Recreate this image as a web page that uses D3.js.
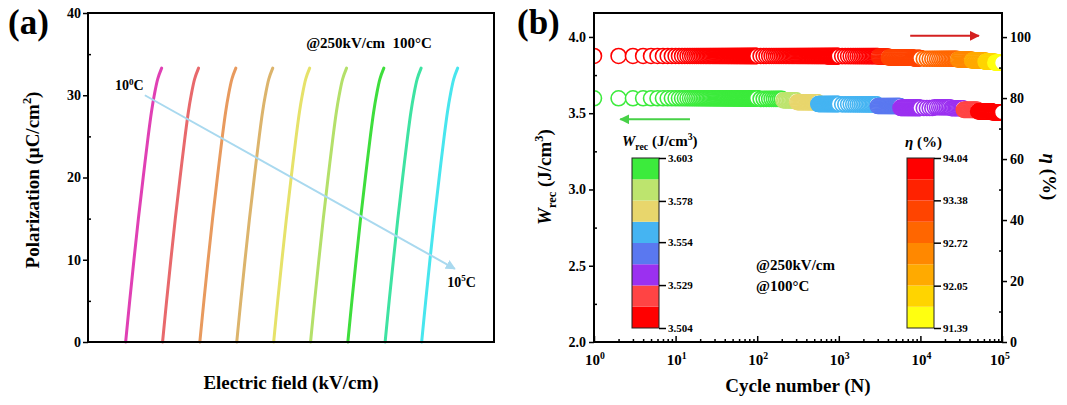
<!DOCTYPE html>
<html lang="en">
<head>
<meta charset="utf-8">
<script src="https://d3js.org/d3.v7.min.js"></script>
<style>
  body { margin: 0; background: #fff; }
  svg { display: block; font-family: "Liberation Serif", "Times New Roman", serif; font-weight: bold; }
  .frame { fill: none; stroke: #000; stroke-width: 2px; }
</style>
</head>
<body>
<svg id="chart" width="1067" height="405"></svg>
<script>
// ---------- panel (a): discharge branches, one per cycling stage (shifted along the field axis)
const loopStarts = [10.2, 20.2, 30.3, 40.3, 50.3, 60.3, 70.4, 80.5, 90.4]
const loopColors = ["#e040b4", "#e8696c", "#e89a5e", "#dcb46c", "#e6e26a", "#b4e06a", "#3ede3c", "#3ee3a2", "#48e6ee"]
const branchP = [0, 5, 10, 15, 20, 25, 28, 30, 32, 33.3]
const branchE = [0, 1.1, 2.25, 3.45, 4.75, 6.1, 7.0, 7.75, 8.7, 9.75]
const polTicks = [0, 10, 20, 30, 40]
const polMinor = [5, 15, 25, 35]

// ---------- panel (b): fatigue data
// tested cycles: [first, last, step] per block
const cycleBlocks = [[1, 100, 1], [110, 1000, 10], [1100, 10000, 100], [11000, 100000, 1000]]
// values as [value, how many consecutive cycles]
const wrecRuns = [[3.598, 100], [3.594, 10], [3.584, 10], [3.572, 25], [3.560, 45],
  [3.558, 19], [3.547, 27], [3.535, 44],
  [3.534, 4], [3.539, 9], [3.533, 10], [3.522, 17], [3.512, 25], [3.506, 25]]
const etaRuns = [[93.8, 100], [93.8, 60], [93.75, 30],
  [93.75, 20], [93.6, 10], [93.3, 40], [93.1, 20],
  [92.9, 18], [92.6, 14], [92.3, 20], [91.9, 20], [91.6, 18]]

const wrecColors = ["#ff0000", "#ff4444", "#9b30f0", "#5a78f0", "#45b4f2", "#e8d66c", "#bde46e", "#3ceb3c"]
const etaColors = ["#ffff10", "#ffd400", "#ffaa00", "#ff8800", "#ff6600", "#ff4400", "#ff2200", "#ff0000"]
const wrecBarTicks = [3.504, 3.529, 3.554, 3.578, 3.603]
const etaBarTicks = [91.39, 92.05, 92.72, 93.38, 94.04]
const wrecTicks = [2.0, 2.5, 3.0, 3.5, 4.0]
const wrecMinor = [2.25, 2.75, 3.25, 3.75]
const etaTicks = [0, 20, 40, 60, 80, 100]
const etaMinor = [10, 30, 50, 70, 90]
const cycleTicks = [1, 10, 100, 1000, 10000, 100000]

const svg = d3.select("#chart")

// little helper for text with italic / sub / superscript pieces
function richText(g, x, y, parts, size, anchor) {
  const t = g.append("text").attr("x", x).attr("y", y).attr("font-size", size)
    .attr("text-anchor", anchor || "start")
  let shift = 0
  parts.forEach(([s, kind]) => {
    const sp = t.append("tspan").text(s)
    const target = kind === "sup" ? -0.4 * size : kind === "sub" ? 0.28 * size : 0
    sp.attr("dy", target - shift)
    shift = target
    if (kind === "sup" || kind === "sub") sp.attr("font-size", size * 0.65)
    if (kind === "it") sp.attr("font-style", "italic")
  })
  return t
}

function styleAxis(g, size) {
  g.attr("font-family", null).attr("font-size", size).attr("font-weight", "bold")
  g.select(".domain").remove()
  g.selectAll(".tick line").attr("stroke-width", 1.5)
}

const defs = svg.append("defs")
function arrowMarker(id, color) {
  defs.append("marker").attr("id", id).attr("viewBox", "0 0 10 10").attr("refX", 9).attr("refY", 5)
    .attr("markerWidth", 5).attr("markerHeight", 5).attr("orient", "auto-start-reverse")
    .append("path").attr("d", "M0,0 L10,5 L0,10 z").attr("fill", color)
}
arrowMarker("arrBlue", "#a9d9ef")
arrowMarker("arrRed", "#d42020")
arrowMarker("arrGreen", "#47d147")

// ================= panel (a)
const xa = d3.scaleLinear().domain([0, 110]).range([88, 494])
const ya = d3.scaleLinear().domain([0, 40]).range([342, 13])
const pa = svg.append("g")

const branch = d3.range(branchP.length).map(i => ({ p: branchP[i], e: branchE[i] }))
loopStarts.forEach((start, i) => {
  const line = d3.line().x(d => xa(start + d.e)).y(d => ya(d.p)).curve(d3.curveCatmullRom)
  pa.append("path").attr("d", line(branch)).attr("fill", "none")
    .attr("stroke", loopColors[i]).attr("stroke-width", 3).attr("stroke-linecap", "round")
})

pa.append("rect").attr("class", "frame").attr("x", 88).attr("y", 13).attr("width", 406).attr("height", 329)
pa.append("g").attr("transform", "translate(88,0)")
  .call(d3.axisLeft(ya).tickValues(polTicks).tickSize(5).tickPadding(2))
  .call(g => styleAxis(g, 14))
pa.append("g").attr("transform", "translate(88,0)")
  .call(d3.axisRight(ya).tickValues(polMinor).tickSize(3).tickFormat(""))
  .call(g => styleAxis(g, 14))

pa.append("line").attr("x1", xa(15.4)).attr("y1", ya(30)).attr("x2", xa(99.4)).attr("y2", ya(8.9))
  .attr("stroke", "#a9d9ef").attr("stroke-width", 2).attr("marker-end", "url(#arrBlue)")
richText(pa, xa(7.3), ya(30.6), [["10"], ["0", "sup"], ["C"]], 14)
richText(pa, xa(97.3), ya(6.7), [["10"], ["5", "sup"], ["C"]], 14)
pa.append("text").attr("x", xa(59.1)).attr("y", ya(35.7)).attr("font-size", 15)
  .attr("xml:space", "preserve").text("@250kV/cm  100°C")

pa.append("text").attr("x", 8).attr("y", 34).attr("font-size", 35).text("(a)")
pa.append("text").attr("x", 291).attr("y", 389).attr("font-size", 19).attr("text-anchor", "middle").text("Electric field (kV/cm)")
const yla = pa.append("g").attr("transform", "translate(39,180) rotate(-90)")
richText(yla, 0, 0, [["Polarization (μC/cm"], ["2", "sup"], [")"]], 19, "middle")

// ================= panel (b)
const xb = d3.scaleLog().domain([1, 1e5]).range([594, 1002])
const yw = d3.scaleLinear().domain([2, 4.157]).range([342, 13])
const ye = d3.scaleLinear().domain([0, 107.9]).range([342, 13])
const wColor = d3.scaleQuantize().domain([3.504, 3.603]).range(wrecColors)
const eColor = d3.scaleQuantize().domain([91.39, 94.04]).range(etaColors)

const cycles = cycleBlocks.flatMap(([a, b, s]) => d3.range(a, b + s / 2, s))
const unrun = runs => runs.flatMap(([v, n]) => Array(n).fill(v))
const wrec = unrun(wrecRuns)
const eta = unrun(etaRuns)

const pb = svg.append("g")
defs.append("clipPath").attr("id", "clipB").append("rect")
  .attr("x", 594).attr("y", 13).attr("width", 408).attr("height", 329)
const marks = pb.append("g").attr("clip-path", "url(#clipB)")

marks.append("g").selectAll("circle").data(cycles).join("circle")
  .attr("cx", d => xb(d)).attr("cy", (d, i) => ye(eta[i])).attr("r", 7.5)
  .attr("fill", "#fff").attr("stroke", (d, i) => eColor(eta[i])).attr("stroke-width", 1.6)
marks.append("g").selectAll("circle").data(cycles).join("circle")
  .attr("cx", d => xb(d)).attr("cy", (d, i) => yw(wrec[i])).attr("r", 7.5)
  .attr("fill", "#fff").attr("stroke", (d, i) => wColor(wrec[i])).attr("stroke-width", 1.6)

pb.append("rect").attr("class", "frame").attr("x", 594).attr("y", 13).attr("width", 408).attr("height", 329)

pb.append("g").attr("transform", "translate(594,0)")
  .call(d3.axisLeft(yw).tickValues(wrecTicks).tickSize(5).tickPadding(3).tickFormat(d3.format(".1f")))
  .call(g => styleAxis(g, 14))
pb.append("g").attr("transform", "translate(594,0)")
  .call(d3.axisRight(yw).tickValues(wrecMinor).tickSize(3).tickFormat(""))
  .call(g => styleAxis(g, 14))
pb.append("g").attr("transform", "translate(1002,0)")
  .call(d3.axisRight(ye).tickValues(etaTicks).tickSize(5).tickPadding(3))
  .call(g => styleAxis(g, 14))
pb.append("g").attr("transform", "translate(1002,0)")
  .call(d3.axisLeft(ye).tickValues(etaMinor).tickSize(3).tickFormat(""))
  .call(g => styleAxis(g, 14))

const minorCycles = d3.range(0, 5).flatMap(k => d3.range(2, 10).map(m => m * Math.pow(10, k)))
pb.append("g").attr("transform", "translate(0,342)")
  .call(d3.axisBottom(xb).tickValues(cycleTicks).tickSize(-6).tickFormat(""))
  .call(g => styleAxis(g, 14))
pb.append("g").attr("transform", "translate(0,342)")
  .call(d3.axisBottom(xb).tickValues(minorCycles).tickSize(-3).tickFormat(""))
  .call(g => styleAxis(g, 14))
cycleTicks.forEach(v => {
  richText(pb, xb(v) + (v === 1e5 ? -2 : 1), 365, [["10"], [String(Math.round(Math.log10(v))), "sup"]], 15, "middle")
})

pb.append("text").attr("x", 517).attr("y", 34).attr("font-size", 35).text("(b)")
pb.append("text").attr("x", 798).attr("y", 392).attr("font-size", 19).attr("text-anchor", "middle").text("Cycle number (N)")
const ylb = pb.append("g").attr("transform", "translate(551,177) rotate(-90)")
richText(ylb, 0, 0, [["W", "it"], ["rec", "sub"], [" (J/cm"], ["3", "sup"], [")"]], 19, "middle")
const yrb = pb.append("g").attr("transform", "translate(1043,177) rotate(90)")
richText(yrb, 0, 0, [["η", "it"], [" (%)"]], 19, "middle")

// trend arrows
pb.append("line").attr("x1", xb(15)).attr("y1", yw(3.46)).attr("x2", xb(2.1)).attr("y2", yw(3.46))
  .attr("stroke", "#47d147").attr("stroke-width", 2).attr("marker-end", "url(#arrGreen)")
pb.append("line").attr("x1", xb(7500)).attr("y1", ye(100.4)).attr("x2", xb(52000)).attr("y2", ye(100.4))
  .attr("stroke", "#d42020").attr("stroke-width", 2).attr("marker-end", "url(#arrRed)")

pb.append("text").attr("x", 756).attr("y", 270).attr("font-size", 15).text("@250kV/cm")
pb.append("text").attr("x", 756).attr("y", 291).attr("font-size", 15).text("@100°C")

// colour bars
function colorBar(x, top, bottom, domain, colors, ticks, fmt) {
  const s = d3.scaleLinear().domain(domain).range([bottom, top])
  const step = (domain[1] - domain[0]) / colors.length
  const g = pb.append("g")
  g.selectAll("rect").data(colors).join("rect")
    .attr("x", x).attr("width", 27)
    .attr("y", (c, i) => s(domain[0] + (i + 1) * step))
    .attr("height", (c, i) => s(domain[0] + i * step) - s(domain[0] + (i + 1) * step))
    .attr("fill", c => c)
  g.append("rect").attr("x", x).attr("y", top).attr("width", 27).attr("height", bottom - top)
    .attr("fill", "none").attr("stroke", "#222").attr("stroke-width", 1)
  g.append("g").attr("transform", `translate(${x + 27},0)`)
    .call(d3.axisRight(s).tickValues(ticks).tickSize(7).tickPadding(2).tickFormat(fmt))
    .call(a => styleAxis(a, 11))
}
colorBar(632, 158, 328, [3.504, 3.603], wrecColors, wrecBarTicks, d3.format(".3f"))
colorBar(907, 158, 328, [91.39, 94.04], etaColors, etaBarTicks, d3.format(".2f"))
richText(pb, 622, 146, [["W", "it"], ["rec", "sub"], [" (J/cm"], ["3", "sup"], [")"]], 15)
richText(pb, 905, 147, [["η", "it"], [" (%)"]], 15)
</script>
</body>
</html>
